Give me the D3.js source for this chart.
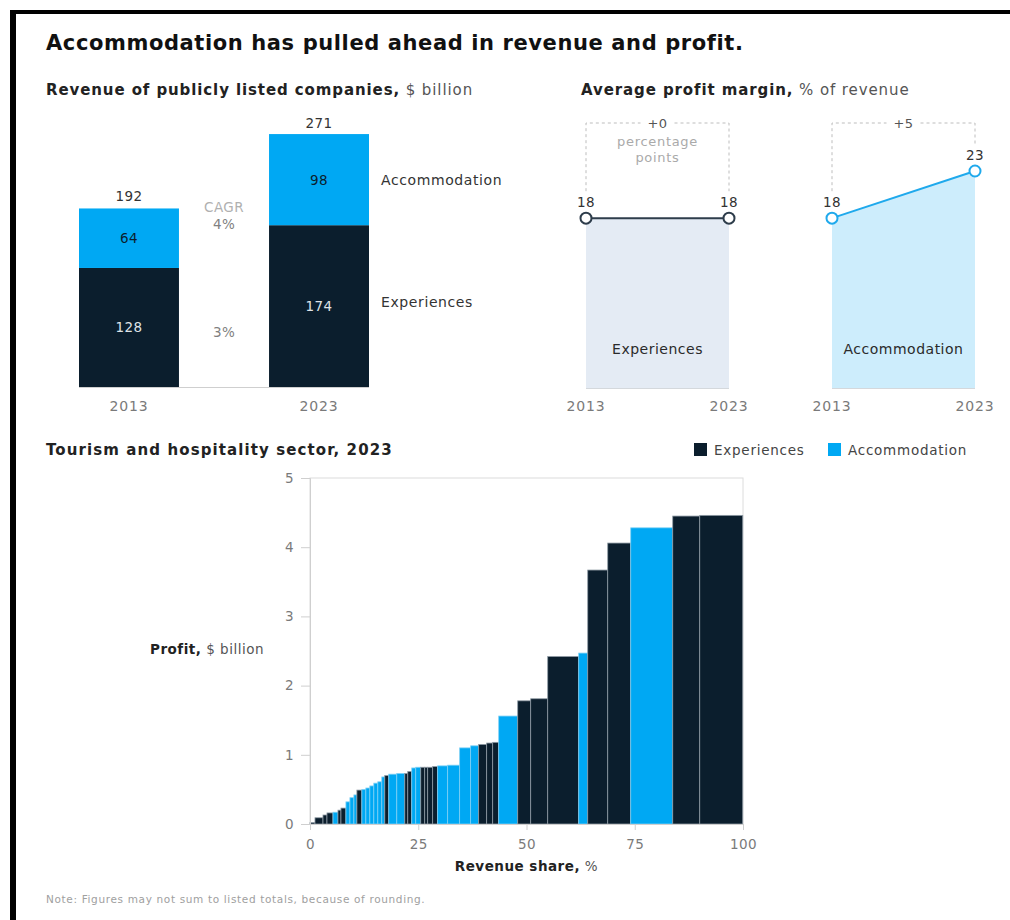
<!DOCTYPE html>
<html>
<head>
<meta charset="utf-8">
<script src="https://cdn.jsdelivr.net/npm/d3@7"></script>
<style>
  html, body { margin: 0; padding: 0; background: #fff; }
  svg { display: block; font-family: "DejaVu Sans", Verdana, sans-serif; letter-spacing: 0.4px; }
</style>
</head>
<body>
<svg id="chart" width="1010" height="920"></svg>
<script>
// ---- Revenue of publicly listed companies, $ billion ----
const revYears = ["2013", "2023"];
const revExperiences = [128, 174];
const revAccommodation = [64, 98];
const revTotals = [192, 271];
const cagrLabels = { accommodation: "4%", experiences: "3%" };

// ---- Average profit margin, % of revenue ----
const marginYears = ["2013", "2023"];
const marginExperiences = [18, 18];
const marginAccommodation = [18, 23];
const marginChange = ["+0", "+5"];

// ---- Tourism and hospitality sector, 2023 (company-level) ----
const companyShare = [1.15, 1.85, 0.92, 1.39, 1.15, 0.69, 1.15, 0.92, 0.92, 0.69,
  1.15, 0.92, 0.92, 0.92, 0.92, 0.92, 0.69, 0.92, 1.85, 1.85,
  0.69, 0.92, 0.92, 1.15, 0.92, 0.69, 1.15, 1.15, 2.31, 2.77,
  2.54, 1.85, 1.85, 1.39, 1.39, 4.39, 3.00, 3.93, 7.16, 2.08,
  4.62, 5.31, 9.70, 6.24, 9.93];
const companyProfit = [0.02, 0.09, 0.13, 0.16, 0.17, 0.20, 0.23, 0.32, 0.38, 0.42,
  0.49, 0.50, 0.52, 0.55, 0.59, 0.61, 0.68, 0.70, 0.72, 0.73,
  0.73, 0.76, 0.81, 0.82, 0.82, 0.82, 0.82, 0.83, 0.84, 0.85,
  1.10, 1.13, 1.15, 1.17, 1.18, 1.56, 1.78, 1.81, 2.42, 2.47,
  3.67, 4.06, 4.28, 4.45, 4.46];
const companySector = ["E", "E", "E", "E", "A", "E", "E", "A", "A", "A",
  "E", "A", "A", "A", "A", "A", "A", "E", "A", "A",
  "E", "E", "A", "A", "E", "E", "E", "E", "A", "A",
  "A", "A", "E", "E", "E", "A", "E", "E", "E", "A",
  "E", "E", "A", "E", "E"];
const profitTicks = [0, 1, 2, 3, 4, 5];
const shareTicks = [0, 25, 50, 75, 100];

const DARK = "#0b1e2d";
const BLUE = "#00a8f3";
const GREY = "#7a7a7a";
const INK = "#222";
const FS = 13.5;

const svg = d3.select("#chart");

// frame
svg.append("rect").attr("x", 10).attr("y", 10).attr("width", 1000).attr("height", 4).attr("fill", "#000");
svg.append("rect").attr("x", 10).attr("y", 10).attr("width", 6).attr("height", 910).attr("fill", "#000");

// headline
svg.append("text").attr("x", 46).attr("y", 50)
  .attr("font-size", 21).attr("font-weight", 700).attr("fill", "#111")
  .attr("letter-spacing", 0.6)
  .text("Accommodation has pulled ahead in revenue and profit.");

function heading(x, y, bold, rest) {
  const t = svg.append("text").attr("x", x).attr("y", y).attr("font-size", 15)
    .attr("letter-spacing", 0.9).attr("fill", INK);
  t.append("tspan").attr("font-weight", 700).text(bold);
  if (rest) t.append("tspan").attr("fill", "#555").text(rest);
  return t;
}

// ================= Revenue stacked bars =================
heading(46, 95, "Revenue of publicly listed companies,", " $ billion");

const xRev = d3.scaleBand().domain(revYears).range([79, 369]).paddingInner(0.474).paddingOuter(0);
const yRev = d3.scaleLinear().domain([0, 271]).range([387, 135]);

const revRows = revYears.map((y, i) => ({ year: y, exp: revExperiences[i], acc: revAccommodation[i], total: revTotals[i] }));
const stack = d3.stack().keys(["exp", "acc"])(revRows);

const gRev = svg.append("g");
stack.forEach(layer => {
  gRev.selectAll(null).data(layer).join("rect")
    .attr("x", d => xRev(d.data.year))
    .attr("width", xRev.bandwidth())
    .attr("y", d => yRev(d[1]))
    .attr("height", d => yRev(d[0]) - yRev(d[1]))
    .attr("fill", layer.key === "exp" ? DARK : BLUE);
  gRev.selectAll(null).data(layer).join("text")
    .attr("x", d => xRev(d.data.year) + xRev.bandwidth() / 2)
    .attr("y", d => (yRev(d[0]) + yRev(d[1])) / 2 + 5)
    .attr("text-anchor", "middle").attr("font-size", FS)
    .attr("fill", layer.key === "exp" ? "#dfe3e7" : DARK)
    .text(d => d.data[layer.key]);
});
gRev.append("line").attr("x1", 79).attr("x2", 369).attr("y1", 387.5).attr("y2", 387.5)
  .attr("stroke", "#cfcfcf").attr("stroke-width", 1);
gRev.selectAll(".tot").data(revRows).join("text")
  .attr("x", d => xRev(d.year) + xRev.bandwidth() / 2)
  .attr("y", d => yRev(d.total) - 7)
  .attr("text-anchor", "middle").attr("font-size", FS).attr("fill", "#333")
  .text(d => d.total);
gRev.selectAll(".yr").data(revYears).join("text")
  .attr("x", d => xRev(d) + xRev.bandwidth() / 2).attr("y", 411)
  .attr("text-anchor", "middle").attr("font-size", 14).attr("letter-spacing", 0.8)
  .attr("fill", GREY).text(d => d);

// CAGR labels
const cagrX = (xRev("2013") + xRev.bandwidth() + xRev("2023")) / 2;
gRev.append("text").attr("x", cagrX).attr("y", 212).attr("text-anchor", "middle")
  .attr("font-size", FS).attr("fill", "#b0b0b0").text("CAGR");
gRev.append("text").attr("x", cagrX).attr("y", 229).attr("text-anchor", "middle")
  .attr("font-size", FS).attr("fill", "#808080").text(cagrLabels.accommodation);
gRev.append("text").attr("x", cagrX).attr("y", 337).attr("text-anchor", "middle")
  .attr("font-size", FS).attr("fill", "#808080").text(cagrLabels.experiences);

// series labels right of 2023 bar
const last = stack.map(l => l[1]);
gRev.append("text").attr("x", 381).attr("y", (yRev(last[1][0]) + yRev(last[1][1])) / 2 + 5)
  .attr("font-size", 14).attr("letter-spacing", 0.6).attr("fill", "#333").text("Accommodation");
gRev.append("text").attr("x", 381).attr("y", (yRev(last[0][0]) + yRev(last[0][1])) / 2 + 1)
  .attr("font-size", 14).attr("letter-spacing", 0.6).attr("fill", "#333").text("Experiences");

// ================= Profit margin panels =================
heading(581, 95, "Average profit margin,", " % of revenue");

const yMargin = d3.scaleLinear().domain([0, 23]).range([388, 171]);
const panels = [
  { name: "Experiences", values: marginExperiences, change: marginChange[0], range: [586, 729],
    line: "#2e3d4b", fill: "#e4ebf4", sub: true },
  { name: "Accommodation", values: marginAccommodation, change: marginChange[1], range: [832, 975],
    line: "#1fa9ec", fill: "#cdedfc", sub: false }
];

panels.forEach(p => {
  const x = d3.scalePoint().domain(marginYears).range(p.range);
  const pts = marginYears.map((yr, i) => ({ yr, v: p.values[i] }));
  const g = svg.append("g");
  const area = d3.area().x(d => x(d.yr)).y0(yMargin(0)).y1(d => yMargin(d.v));
  g.append("path").datum(pts).attr("d", area).attr("fill", p.fill);
  g.append("line").attr("x1", p.range[0]).attr("x2", p.range[1])
    .attr("y1", yMargin(0) + 0.5).attr("y2", yMargin(0) + 0.5).attr("stroke", "#d4d8dc");
  g.append("path").datum(pts).attr("d", d3.line().x(d => x(d.yr)).y(d => yMargin(d.v)))
    .attr("fill", "none").attr("stroke", p.line).attr("stroke-width", 2);
  g.selectAll("circle").data(pts).join("circle")
    .attr("cx", d => x(d.yr)).attr("cy", d => yMargin(d.v)).attr("r", 5.5)
    .attr("fill", "#fff").attr("stroke", p.line).attr("stroke-width", 2);
  g.selectAll(".val").data(pts).join("text")
    .attr("x", d => x(d.yr)).attr("y", d => yMargin(d.v) - 11)
    .attr("text-anchor", "middle").attr("font-size", FS).attr("fill", "#333").text(d => d.v);
  g.selectAll(".yr").data(marginYears).join("text")
    .attr("x", d => x(d)).attr("y", 411).attr("text-anchor", "middle")
    .attr("font-size", 14).attr("letter-spacing", 0.8).attr("fill", GREY).text(d => d);
  g.append("text").attr("x", (p.range[0] + p.range[1]) / 2).attr("y", 354)
    .attr("text-anchor", "middle").attr("font-size", 14).attr("letter-spacing", 0.5)
    .attr("fill", "#2a2a2a").text(p.name);

  // dashed bracket showing the change
  const top = 123;
  const mid = (p.range[0] + p.range[1]) / 2;
  const leftEnd = yMargin(pts[0].v) - 27;
  const rightEnd = yMargin(pts[1].v) - 27;
  const dash = { stroke: "#bdbdbd", "stroke-width": 1, "stroke-dasharray": "3,3", fill: "none" };
  const seg = (pathD) => { const s = g.append("path").attr("d", pathD); Object.entries(dash).forEach(([k, v]) => s.attr(k, v)); };
  seg(`M${p.range[0]},${leftEnd}V${top}H${mid - 17}`);
  seg(`M${mid + 17},${top}H${p.range[1]}V${rightEnd}`);
  g.append("text").attr("x", mid).attr("y", top + 5).attr("text-anchor", "middle")
    .attr("font-size", 13).attr("fill", "#555").text(p.change);
  if (p.sub) {
    g.append("text").attr("x", mid).attr("y", 146).attr("text-anchor", "middle")
      .attr("font-size", 13).attr("letter-spacing", 0.7).attr("fill", "#aaa").text("percentage");
    g.append("text").attr("x", mid).attr("y", 162).attr("text-anchor", "middle")
      .attr("font-size", 13).attr("letter-spacing", 0.7).attr("fill", "#aaa").text("points");
  }
});

// ================= Marimekko: revenue share vs profit =================
heading(46, 455, "Tourism and hospitality sector, 2023", "").attr("letter-spacing", 1.1);

// legend
const legend = svg.append("g");
[["Experiences", DARK, 694], ["Accommodation", BLUE, 828]].forEach(([lab, col, lx]) => {
  legend.append("rect").attr("x", lx).attr("y", 443).attr("width", 13).attr("height", 13).attr("fill", col);
  legend.append("text").attr("x", lx + 20).attr("y", 455).attr("font-size", 13.5)
    .attr("letter-spacing", 0.75).attr("fill", "#444").text(lab);
});

const xShare = d3.scaleLinear().domain([0, 100]).range([310, 743]);
const yProfit = d3.scaleLinear().domain([0, 5]).range([824, 478]);

const ends = d3.cumsum(companyShare);
const companies = companyShare.map((s, i) => ({
  x0: ends[i] - s, x1: ends[i], profit: companyProfit[i], sector: companySector[i]
}));

const gM = svg.append("g");
// plot frame
gM.append("rect").attr("x", xShare(0)).attr("y", yProfit(5))
  .attr("width", xShare(100) - xShare(0)).attr("height", yProfit(0) - yProfit(5))
  .attr("fill", "none").attr("stroke", "#dcdcdc").attr("stroke-width", 1);

gM.selectAll(".bar").data(companies).join("rect")
  .attr("x", d => xShare(d.x0))
  .attr("width", d => Math.max(0, xShare(d.x1) - xShare(d.x0)))
  .attr("y", d => yProfit(d.profit))
  .attr("height", d => yProfit(0) - yProfit(d.profit))
  .attr("fill", d => d.sector === "E" ? DARK : BLUE)
  .attr("stroke", d => d.sector === "E" ? "#8e9aa4" : "#7fd0f5")
  .attr("stroke-width", 0.8);

const yAxis = gM.append("g").attr("transform", `translate(${xShare(0)},0)`)
  .call(d3.axisLeft(yProfit).tickValues(profitTicks).tickSize(9).tickPadding(7).tickFormat(d3.format("d")));
const xAxis = gM.append("g").attr("transform", `translate(0,${yProfit(0)})`)
  .call(d3.axisBottom(xShare).tickValues(shareTicks).tickSize(6).tickPadding(9).tickFormat(d3.format("d")));
[yAxis, xAxis].forEach(a => {
  a.select(".domain").attr("stroke", "#cfcfcf");
  a.selectAll(".tick line").attr("stroke", "#cfcfcf");
  a.selectAll(".tick text").attr("fill", GREY).attr("font-size", 13.5)
    .attr("font-family", "'DejaVu Sans', Verdana, sans-serif");
});

const yl = svg.append("text").attr("x", 150).attr("y", 654).attr("font-size", 13.5)
  .attr("letter-spacing", 0.5).attr("fill", INK);
yl.append("tspan").attr("font-weight", 700).text("Profit,");
yl.append("tspan").attr("fill", "#555").text(" $ billion");

const xl = svg.append("text").attr("x", xShare(50)).attr("y", 871).attr("text-anchor", "middle")
  .attr("font-size", 13.5).attr("letter-spacing", 0.5).attr("fill", INK);
xl.append("tspan").attr("font-weight", 700).text("Revenue share,");
xl.append("tspan").attr("fill", "#555").text(" %");

svg.append("text").attr("x", 46).attr("y", 903).attr("font-size", 10.5).attr("letter-spacing", 0.65)
  .attr("fill", "#a0a0a0")
  .text("Note: Figures may not sum to listed totals, because of rounding.");
</script>
</body>
</html>
